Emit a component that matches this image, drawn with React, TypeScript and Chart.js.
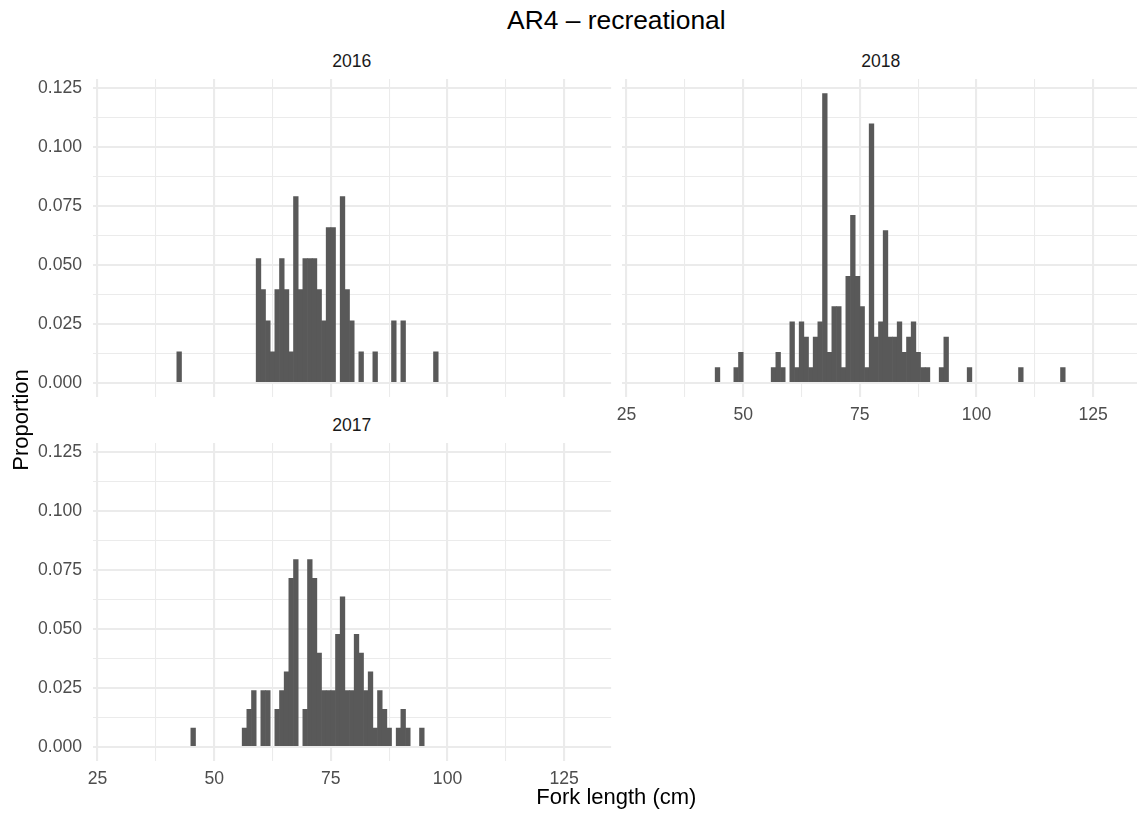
import React, { useEffect, useRef } from 'react';
import { Chart, registerables } from 'chart.js';

Chart.register(...registerables);

// ---------------- data ----------------
// bin centres (1 cm bins) and fish counts per bin, per year
const lengths2016 = [42.5, 59.5, 60.5, 61.5, 62.5, 63.5, 64.5, 65.5, 66.5, 67.5, 68.5, 69.5, 70.5, 71.5, 72.5, 73.5, 74.5, 75.5, 77.5, 78.5, 79.5, 81.5, 84.5, 88.5, 90.5, 97.5];
const counts2016 = [1, 4, 3, 2, 1, 3, 4, 3, 1, 6, 3, 4, 4, 4, 3, 2, 5, 5, 6, 3, 2, 1, 1, 2, 2, 1];

const lengths2018 = [44.5, 48.5, 49.5, 56.5, 57.5, 58.5, 60.5, 61.5, 62.5, 63.5, 64.5, 65.5, 66.5, 67.5, 68.5, 69.5, 70.5, 71.5, 72.5, 73.5, 74.5, 75.5, 76.5, 77.5, 78.5, 79.5, 80.5, 81.5, 82.5, 83.5, 84.5, 85.5, 86.5, 87.5, 88.5, 89.5, 92.5, 93.5, 98.5, 109.5, 118.5];
const counts2018 = [1, 1, 2, 1, 2, 1, 4, 1, 4, 3, 1, 3, 4, 19, 2, 5, 5, 1, 7, 11, 7, 5, 1, 17, 3, 4, 10, 3, 3, 4, 2, 3, 4, 2, 1, 1, 1, 3, 1, 1, 1];

const lengths2017 = [45.5, 56.5, 57.5, 58.5, 60.5, 61.5, 63.5, 64.5, 65.5, 66.5, 67.5, 69.5, 70.5, 71.5, 72.5, 73.5, 74.5, 75.5, 76.5, 77.5, 78.5, 79.5, 80.5, 81.5, 82.5, 83.5, 84.5, 85.5, 86.5, 87.5, 89.5, 90.5, 91.5, 94.5];
const counts2017 = [1, 1, 2, 3, 3, 3, 2, 3, 4, 9, 10, 2, 10, 9, 5, 3, 3, 3, 6, 8, 3, 3, 6, 5, 3, 4, 1, 3, 2, 1, 1, 2, 1, 1];

const xTicks = [25, 37.5, 50, 62.5, 75, 87.5, 100, 112.5, 125];
const xLabelled = [25, 50, 75, 100, 125];
const yTicks = [0, 0.0125, 0.025, 0.0375, 0.05, 0.0625, 0.075, 0.0875, 0.1, 0.1125, 0.125];
const yLabelled = [0, 0.025, 0.05, 0.075, 0.1, 0.125];

const X_MIN = 23.95;
const X_MAX = 135.05;
const Y_MIN = -0.00613;
const Y_MAX = 0.12871;

const TITLE = 'AR4 \u2013 recreational';
const X_TITLE = 'Fork length (cm)';
const Y_TITLE = 'Proportion';

// ---------------- layout / style ----------------
const FONT = '"Liberation Sans", Arial, Helvetica, sans-serif';
const BAR = '#595959';
const GRID = '#EBEBEB';
const TICK_TEXT = '#4D4D4D';
const PANEL_W = 518.5;
const PANEL_H = 318.3;
const COL_X = [92.6, 621.6];
const ROW_Y = [79.0, 443.0];

type Rect = { l: number; t: number; w: number; h: number };

const near = (v: number, list: number[]) => list.some((u) => Math.abs(u - v) < 1e-6);

function Panel(props: {
  lengths: number[];
  counts: number[];
  canvas: Rect;
  panel: Rect;
  showX: boolean;
  showY: boolean;
}) {
  const ref = useRef<HTMLCanvasElement | null>(null);
  const { canvas, panel } = props;
  useEffect(() => {
    if (!ref.current) return;
    const total = props.counts.reduce((a, b) => a + b, 0);
    const points = props.lengths.map((x, i) => ({ x, y: props.counts[i] / total }));
    const yAxisW = panel.l - canvas.l;
    const padTop = panel.t - canvas.t;
    const padRight = canvas.l + canvas.w - (panel.l + panel.w);
    const xAxisH = canvas.t + canvas.h - (panel.t + panel.h);
    const noPad = (s: any) => {
      s.paddingTop = 0;
      s.paddingBottom = 0;
      s.paddingLeft = 0;
      s.paddingRight = 0;
    };
    const chart = new Chart(ref.current, {
      type: 'bar',
      data: {
        datasets: [
          {
            data: points as any,
            backgroundColor: BAR,
            borderWidth: 0,
            barPercentage: 1,
            categoryPercentage: 1,
          },
        ],
      },
      options: {
        animation: false,
        responsive: false,
        maintainAspectRatio: false,
        layout: { padding: { top: padTop, right: padRight, left: 0, bottom: 0 } },
        plugins: { legend: { display: false }, tooltip: { enabled: false }, title: { display: false } },
        scales: {
          x: {
            type: 'linear',
            min: X_MIN,
            max: X_MAX,
            offset: false,
            afterBuildTicks: (s: any) => {
              s.ticks = xTicks.map((v) => ({ value: v }));
            },
            afterFit: (s: any) => {
              s.height = xAxisH;
              noPad(s);
            },
            grid: {
              offset: false,
              drawTicks: false,
              color: GRID,
              lineWidth: (ctx: any) => (ctx.tick && near(ctx.tick.value, xLabelled) ? 2.1 : 1.07),
            },
            border: { display: false },
            ticks: {
              display: props.showX,
              autoSkip: false,
              maxRotation: 0,
              minRotation: 0,
              padding: 7.5,
              color: TICK_TEXT,
              font: { family: FONT, size: 17.6 },
              callback: (v: any) => (near(Number(v), xLabelled) ? String(v) : ''),
            },
          },
          y: {
            type: 'linear',
            min: Y_MIN,
            max: Y_MAX,
            afterBuildTicks: (s: any) => {
              s.ticks = yTicks.map((v) => ({ value: v }));
            },
            afterFit: (s: any) => {
              s.width = yAxisW;
              noPad(s);
            },
            grid: {
              drawTicks: false,
              color: GRID,
              lineWidth: (ctx: any) => (ctx.tick && near(ctx.tick.value, yLabelled) ? 2.1 : 1.07),
            },
            border: { display: false },
            ticks: {
              display: props.showY,
              autoSkip: false,
              padding: 10.6,
              color: TICK_TEXT,
              font: { family: FONT, size: 17.6 },
              callback: (v: any) => (near(Number(v), yLabelled) ? Number(v).toFixed(3) : ''),
            },
          },
        },
      } as any,
    });
    return () => chart.destroy();
  }, []);
  return (
    <canvas
      ref={ref}
      width={canvas.w}
      height={canvas.h}
      style={{ position: 'absolute', left: canvas.l, top: canvas.t, width: canvas.w, height: canvas.h }}
    />
  );
}

function Label(props: { text: string; cx: number; cy: number; size: number; color: string; rotate?: boolean }) {
  const w = 400;
  return (
    <div
      style={{
        position: 'absolute',
        left: props.cx - w / 2,
        top: props.cy - props.size / 2,
        width: w,
        height: props.size,
        lineHeight: `${props.size}px`,
        fontSize: props.size,
        fontFamily: FONT,
        color: props.color,
        textAlign: 'center',
        whiteSpace: 'nowrap',
        transform: props.rotate ? 'rotate(-90deg)' : undefined,
      }}
    >
      {props.text}
    </div>
  );
}

export default function App() {
  useEffect(() => {
    document.body.style.margin = '0';
  }, []);
  const cx1 = COL_X[0] + PANEL_W / 2;
  const cx2 = COL_X[1] + PANEL_W / 2;
  const cxAll = (COL_X[0] + COL_X[1] + PANEL_W) / 2;
  return (
    <div style={{ position: 'relative', width: 1137, height: 818, overflow: 'hidden', background: '#ffffff' }}>
      <Label text={TITLE} cx={cxAll} cy={20.4} size={26.4} color="#000000" />
      <Label text="2016" cx={cx1} cy={61.4} size={17.6} color="#1A1A1A" />
      <Label text="2018" cx={cx2} cy={61.4} size={17.6} color="#1A1A1A" />
      <Label text="2017" cx={cx1} cy={425.4} size={17.6} color="#1A1A1A" />
      <Panel
        lengths={lengths2016}
        counts={counts2016}
        canvas={{ l: 0, t: 70, w: 612, h: 358 }}
        panel={{ l: COL_X[0], t: ROW_Y[0], w: PANEL_W, h: PANEL_H }}
        showX={false}
        showY={true}
      />
      <Panel
        lengths={lengths2018}
        counts={counts2018}
        canvas={{ l: 612, t: 70, w: 530, h: 358 }}
        panel={{ l: COL_X[1], t: ROW_Y[0], w: PANEL_W, h: PANEL_H }}
        showX={true}
        showY={false}
      />
      <Panel
        lengths={lengths2017}
        counts={counts2017}
        canvas={{ l: 0, t: 434, w: 612, h: 384 }}
        panel={{ l: COL_X[0], t: ROW_Y[1], w: PANEL_W, h: PANEL_H }}
        showX={true}
        showY={true}
      />
      <Label text={X_TITLE} cx={cxAll} cy={796.5} size={22} color="#000000" />
      <Label text={Y_TITLE} cx={20.5} cy={420.2} size={22} color="#000000" rotate={true} />
    </div>
  );
}
